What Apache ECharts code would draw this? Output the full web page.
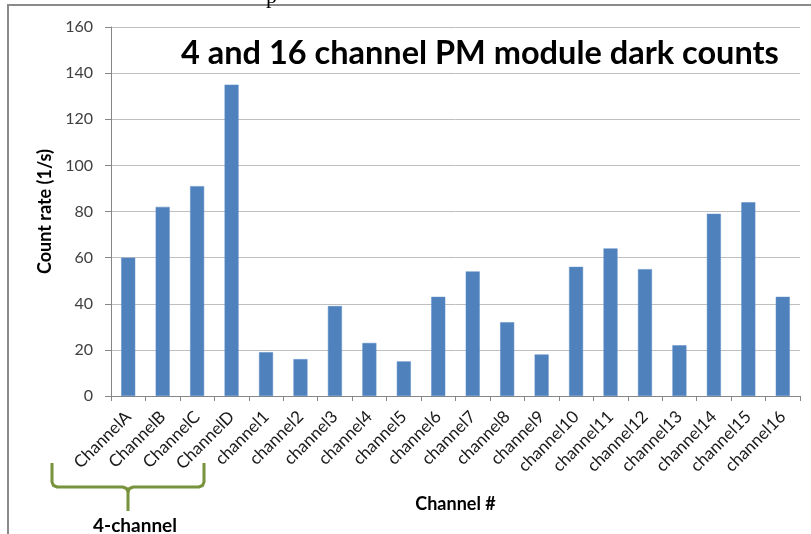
<!DOCTYPE html>
<html>
<head>
<meta charset="utf-8">
<script src="https://cdn.jsdelivr.net/npm/echarts@6/dist/echarts.min.js"></script>
<style>html,body{margin:0;padding:0;background:#fff}#c{width:811px;height:534px}</style>
</head>
<body>
<div id="c"></div>
<script>
var categories = ['ChannelA','ChannelB','ChannelC','ChannelD','channel1','channel2','channel3','channel4','channel5','channel6','channel7','channel8','channel9','channel10','channel11','channel12','channel13','channel14','channel15','channel16'];
var counts = [60, 82, 91, 135, 19, 16, 39, 23, 15, 43, 54, 32, 18, 56, 64, 55, 22, 79, 84, 43];
var yTicks = {min: 0, max: 160, interval: 20};
var titleText = '4 and 16 channel PM module dark counts';
var groupLabel = '4-channel';

var FONT = 'Lato, "Open Sans", sans-serif';
var GREEN = '#77933C';
var chart = echarts.init(document.getElementById('c'), null, {renderer: 'canvas'});
chart.setOption({
  animation: false,
  backgroundColor: '#fff',
  title: {
    text: titleText, left: 176, top: 32,
    textStyle: {fontFamily: FONT, fontSize: 32.5, fontWeight: 'bold', color: '#000'}
  },
  grid: {left: 111, right: 11, top: 27, bottom: 138, containLabel: false},
  xAxis: {
    type: 'category', data: categories,
    name: 'Channel #', nameLocation: 'middle', nameGap: 99,
    nameTextStyle: {fontFamily: FONT, fontSize: 18, fontWeight: 'bold', color: '#000'},
    axisLine: {lineStyle: {color: '#868686', width: 1}},
    axisTick: {show: true, length: 5, lineStyle: {color: '#868686'}},
    axisLabel: {rotate: 45, margin: 18, interval: 0, fontFamily: FONT, fontSize: 17, color: '#1a1a1a'}
  },
  yAxis: {
    type: 'value', min: yTicks.min, max: yTicks.max, interval: yTicks.interval,
    name: 'Count rate (1/s)', nameLocation: 'middle', nameGap: 51,
    nameTextStyle: {fontFamily: FONT, fontSize: 18, fontWeight: 'bold', color: '#000'},
    axisLine: {show: true, lineStyle: {color: '#868686', width: 1}},
    axisTick: {show: true, length: 6, lineStyle: {color: '#868686'}},
    axisLabel: {margin: 18, fontFamily: FONT, fontSize: 16, color: '#404040'},
    splitLine: {lineStyle: {color: '#BFBFBF', width: 1}}
  },
  series: [{
    type: 'bar', data: counts, barWidth: 14,
    itemStyle: {color: '#4F81BD', borderColor: '#5B8DC9', borderWidth: 0.5}
  }],
  graphic: [
    {type: 'line', shape: {x1: 8, y1: 5, x2: 811, y2: 5}, style: {stroke: '#8a8a8a', lineWidth: 2}},
    {type: 'line', shape: {x1: 8, y1: 4, x2: 8, y2: 534}, style: {stroke: '#8a8a8a', lineWidth: 2}},
    {type: 'text', x: 266, y: -14, style: {text: 'p', fontFamily: 'Liberation Serif', fontSize: 22, fill: '#000'}},
    {type: 'polyline', shape: {points: [[52,463],[52,482],[53.5,485.5],[57,487],[123,487],[126.5,488.5],[128,492],[128,511]]},
      style: {stroke: GREEN, lineWidth: 3, fill: null}},
    {type: 'polyline', shape: {points: [[204,463],[204,482],[202.5,485.5],[199,487],[133,487],[129.5,488.5],[128,492]]},
      style: {stroke: GREEN, lineWidth: 3, fill: null}},
    {type: 'text', x: 135, y: 526, style: {text: groupLabel, fontFamily: FONT, fontSize: 19, fontWeight: 'bold', fill: '#000', align: 'center', verticalAlign: 'middle'}}
  ]
});
</script>
</body>
</html>
